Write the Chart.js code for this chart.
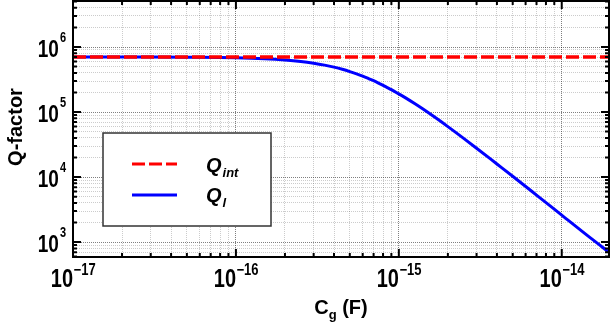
<!DOCTYPE html>
<html>
<head>
<meta charset="utf-8">
<script src="https://cdn.jsdelivr.net/npm/chart.js@4.4.0/dist/chart.umd.min.js"></script>
<style>
  html, body { margin: 0; padding: 0; background: #fff; }
  #wrap { width: 610px; height: 329px; }
</style>
</head>
<body>
<div id="wrap"><canvas id="qChart" width="610" height="329"></canvas></div>
<script>
// Gate capacitance (F) and the loaded Q
const cgValues = [1e-17, 3e-17, 5e-17, 1e-16, 1.5e-16, 2e-16, 2.5e-16, 3e-16, 3.5e-16, 4e-16, 4.5e-16, 5e-16,
                  5.5e-16, 6e-16, 6.5e-16, 7e-16, 7.5e-16, 8.5e-16, 9e-16, 1e-15, 1.1e-15, 1.25e-15, 1.4e-15,
                  1.7e-15, 2e-15, 2.5e-15, 3e-15, 4e-15, 5e-15, 7e-15, 1e-14, 1.5e-14, 1.95e-14];
const qlValues = [7.0e5, 7.0e5, 6.95e5, 6.82e5, 6.6e5, 6.32e5, 6.0e5, 5.64e5, 5.27e5, 4.9e5, 4.54e5, 4.19e5,
                  3.86e5, 3.56e5, 3.28e5, 3.03e5, 2.79e5, 2.38e5, 2.21e5, 1.9e5, 1.65e5, 1.35e5, 1.12e5,
                  8.0e4, 5.97e4, 3.94e4, 2.78e4, 1.59e4, 1.03e4, 5.29e3, 2.6e3, 1.16e3, 700];

// intrinsic Q is flat
const qintX = [1e-17, 1.95e-14];
const qintY = [7.0e5, 7.0e5];

// axis decades and tick labels
const xDecades = [1e-17, 1e-16, 1e-15, 1e-14];
const xTickExps = ['\u221217', '\u221216', '\u221215', '\u221214'];
const yDecades = [1e2, 1e3, 1e4, 1e5, 1e6];
const yTickValues = [1e3, 1e4, 1e5, 1e6];
const yTickExps = ['3', '4', '5', '6'];

const legendNames = ['Q', 'Q'];
const legendSubs = ['int', 'l'];

const FONT = '"Liberation Sans", Arial, sans-serif';

function isDecade(v) {
  const l = Math.log10(v);
  return Math.abs(l - Math.round(l)) < 1e-6;
}

function logTicks(decades, min, max) {
  let out = [];
  decades.forEach(function(d) {
    for (let k = 1; k <= 9; k++) {
      const v = d * k;
      if (v >= min * 0.999 && v <= max * 1.001) out.push({ value: v, major: k === 1 });
    }
  });
  return out;
}

function gridColor(ctx) {
  if (!ctx.tick) return 'rgba(0,0,0,0)';
  return isDecade(ctx.tick.value) ? 'rgba(0,0,0,0.5)' : 'rgba(0,0,0,0.2)';
}

function stretchText(ctx, str, x, y, font, sy) {
  ctx.save();
  ctx.translate(x, y);
  ctx.scale(1, sy);
  ctx.font = font;
  ctx.fillText(str, 0, 0);
  ctx.restore();
}

const decorPlugin = {
  id: 'decor',
  afterDraw: function(chart) {
    const ctx = chart.ctx;
    const a = chart.chartArea;
    const xs = chart.scales.x;
    const ys = chart.scales.y;

    ctx.save();
    ctx.strokeStyle = '#000';
    ctx.fillStyle = '#000';

    // inward ticks on all four sides
    ctx.lineWidth = 2;
    xs.ticks.forEach(function(t) {
      const px = xs.getPixelForValue(t.value);
      const len = isDecade(t.value) ? 8 : 4;
      ctx.beginPath();
      ctx.moveTo(px, a.bottom); ctx.lineTo(px, a.bottom - len);
      ctx.moveTo(px, a.top); ctx.lineTo(px, a.top + len);
      ctx.stroke();
    });
    ys.ticks.forEach(function(t) {
      const py = ys.getPixelForValue(t.value);
      const len = isDecade(t.value) ? 8 : 4;
      ctx.beginPath();
      ctx.moveTo(a.left, py); ctx.lineTo(a.left + len, py);
      ctx.moveTo(a.right, py); ctx.lineTo(a.right - len, py);
      ctx.stroke();
    });

    // frame
    ctx.lineWidth = 2;
    ctx.strokeRect(a.left, a.top, a.right - a.left, a.bottom - a.top);

    // x tick labels 10^n
    ctx.textAlign = 'left';
    ctx.textBaseline = 'alphabetic';
    xDecades.forEach(function(v, i) {
      const px = xs.getPixelForValue(v);
      ctx.font = 'bold 20px ' + FONT;
      const w1 = ctx.measureText('10').width;
      ctx.font = 'bold 13px ' + FONT;
      const w2 = ctx.measureText(xTickExps[i]).width;
      const x0 = px - (w1 + w2) / 2;
      stretchText(ctx, '10', x0, a.bottom + 30, 'bold 20px ' + FONT, 1.3);
      stretchText(ctx, xTickExps[i], x0 + w1 + 0.5, a.bottom + 18, 'bold 13px ' + FONT, 1.2);
    });

    // y tick labels
    yTickValues.forEach(function(v, i) {
      const py = ys.getPixelForValue(v);
      ctx.font = 'bold 11px ' + FONT;
      const w2 = ctx.measureText(yTickExps[i]).width;
      ctx.font = 'bold 19px ' + FONT;
      const w1 = ctx.measureText('10').width;
      const right = a.left - 7;
      stretchText(ctx, '10', right - w2 - w1 - 1, py + 10, 'bold 19px ' + FONT, 1.25);
      stretchText(ctx, yTickExps[i], right - w2, py - 5, 'bold 11px ' + FONT, 1.25);
    });

    // x title C_g (F)
    ctx.font = 'bold 20px ' + FONT;
    const wC = ctx.measureText('C').width;
    const wR = ctx.measureText(' (F)').width;
    ctx.font = 'bold 13px ' + FONT;
    const wg = ctx.measureText('g').width;
    let tx = (a.left + a.right) / 2 - (wC + wg + wR) / 2;
    ctx.font = 'bold 20px ' + FONT;
    ctx.fillText('C', tx, 314);
    ctx.font = 'bold 13px ' + FONT;
    ctx.fillText('g', tx + wC, 319);
    ctx.font = 'bold 20px ' + FONT;
    ctx.fillText(' (F)', tx + wC + wg, 314);

    // y title
    ctx.save();
    ctx.translate(22, 127);
    ctx.rotate(-Math.PI / 2);
    ctx.textAlign = 'center';
    ctx.font = 'bold 20px ' + FONT;
    ctx.fillText('Q-factor', 0, 0);
    ctx.restore();

    // legend box
    ctx.fillStyle = '#fff';
    ctx.fillRect(103, 133, 168, 93);
    ctx.strokeStyle = '#333';
    ctx.lineWidth = 1.5;
    ctx.strokeRect(103, 133, 168, 93);

    const ds = chart.data.datasets;
    const rows = [164, 195];
    const baseQ = [172, 202];
    const baseSub = [177, 207];
    rows.forEach(function(y, i) {
      ctx.save();
      ctx.strokeStyle = ds[i].borderColor;
      ctx.lineWidth = 3;
      ctx.setLineDash(ds[i].borderDash || []);
      ctx.beginPath();
      ctx.moveTo(132, y); ctx.lineTo(177, y);
      ctx.stroke();
      ctx.restore();

      ctx.fillStyle = '#000';
      ctx.textAlign = 'left';
      ctx.font = 'italic bold 20px ' + FONT;
      ctx.fillText(legendNames[i], 206, baseQ[i]);
      const wq = ctx.measureText(legendNames[i]).width;
      ctx.font = 'italic bold 13px ' + FONT;
      ctx.fillText(legendSubs[i], 206 + wq + 1, baseSub[i]);
    });

    ctx.restore();
  }
};

function makeChart() {
  const ctx = document.getElementById('qChart').getContext('2d');

  new Chart(ctx, {
    type: 'line',
    data: {
      datasets: [{
        label: 'Q_int',
        data: qintX.map(function(x, i) { return { x: x, y: qintY[i] }; }),
        borderColor: '#ff0000',
        borderWidth: 3.5,
        borderDash: [13, 4],
        pointRadius: 0,
        fill: false
      }, {
        label: 'Q_l',
        data: cgValues.map(function(x, i) { return { x: x, y: qlValues[i] }; }),
        borderColor: '#0000ff',
        borderWidth: 3,
        pointRadius: 0,
        cubicInterpolationMode: 'monotone',
        fill: false
      }]
    },
    options: {
      responsive: false,
      animation: false,
      devicePixelRatio: 1,
      layout: { padding: { left: 73, right: 1, top: 1, bottom: 72 } },
      plugins: {
        legend: { display: false },
        tooltip: { enabled: false }
      },
      scales: {
        x: {
          type: 'logarithmic',
          min: 1e-17,
          max: 1.95e-14,
          afterBuildTicks: function(scale) { scale.ticks = logTicks(xDecades, 1e-17, 1.95e-14); },
          ticks: { display: false, autoSkip: false },
          grid: { color: gridColor, lineWidth: 1, drawTicks: false },
          border: { display: false, dash: [1, 1] }
        },
        y: {
          type: 'logarithmic',
          min: 590,
          max: 5.1e6,
          afterBuildTicks: function(scale) { scale.ticks = logTicks(yDecades, 590, 5.1e6); },
          ticks: { display: false, autoSkip: false },
          grid: { color: gridColor, lineWidth: 1, drawTicks: false },
          border: { display: false, dash: [1, 1] }
        }
      }
    },
    plugins: [decorPlugin]
  });
}

makeChart();
</script>
</body>
</html>
